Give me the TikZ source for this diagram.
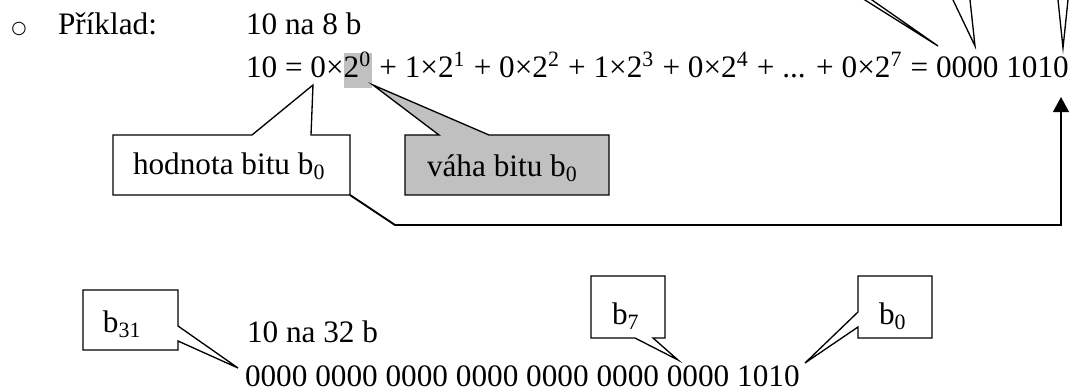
\documentclass[tikz,border=0pt]{standalone}
\usepackage{fontspec}
\setmainfont{Liberation Serif}
\newfontfamily\bulletfont{DejaVu Sans}
\usetikzlibrary{arrows.meta,fit}
\definecolor{hlgray}{RGB}{192,192,192}
\begin{document}
\begin{tikzpicture}[x=0.377pt,y=-0.377pt,
  txt/.style={inner sep=0pt,outer sep=0pt,anchor=base west,font=\fontsize{11.78}{14}\selectfont},
  callout/.style={draw=black,line width=0.5pt,line join=miter,fill=white},
  graycallout/.style={callout,fill=hlgray},
  ptr/.style={draw=black,line width=0.5pt},
  conn/.style={draw=black,line width=0.7pt},
  arr/.style={conn,-{Triangle[width=6pt,length=5.7pt]}},
  boxfit/.style={inner sep=0pt,outer sep=0pt}]
\useasboundingbox (0,0) rectangle (1087,392);

% ---- first line
\node[inner sep=0pt,font=\fontsize{6.6}{7}\bulletfont] (bul) at (19,29) {○};
\node[txt] (pri) at (58,35) {Příklad:};
\node[txt] (ex8) at (246,35) {10 na 8 b};

% ---- equation line
\node[txt] (eqA) at (246,78) {10 = 0×};
\node[txt,fill=hlgray,text height=9.4pt,text depth=3.6pt] (eqH) at (eqA.base east) {2\textsuperscript{0}};
\node[txt] (eqB) at (eqH.base east) {\ + 1×2\textsuperscript{1} + 0×2\textsuperscript{2} + 1×2\textsuperscript{3} + 0×2\textsuperscript{4} + ... + 0×2\textsuperscript{7} = 0000 1010};

% ---- pointers of callouts above the picture
\coordinate (t1) at (938,46);
\coordinate (t2) at (975,46);
\coordinate (t3) at (1063,48);
\draw[ptr] (860.2,-3) -- (t1) -- (867.7,-3);
\draw[ptr] (951.6,-3) -- (t2) -- (969.7,-3);
\draw[ptr] (1057.7,-3) -- (t3) -- (1068.3,-3);

% ---- callout: hodnota bitu b0
\coordinate (hodNW) at (113,135);
\coordinate (hodSE) at (350,195);
\coordinate (hodTip) at (313,85);
\path[callout] (113,135) -- (252,135) -- (hodTip) -- (311,135) -- (350,135) -- (350,195) -- (113,195) -- cycle;
\node[boxfit,fit=(hodNW)(hodSE)] (hodbox) {};
\node[txt] (hodtxt) at (133,175) {hodnota bitu b\textsubscript{0}};

% ---- callout: vaha bitu b0
\coordinate (vahNW) at (405,135);
\coordinate (vahSE) at (609,195);
\coordinate (vahTip) at (373,85);
\path[graycallout] (405,135) -- (439,135) -- (vahTip) -- (489,135) -- (609,135) -- (609,195) -- (405,195) -- cycle;
\node[boxfit,fit=(vahNW)(vahSE)] (vahbox) {};
\node[txt] (vahtxt) at (427,177) {váha bitu b\textsubscript{0}};

% ---- connector with arrow
\coordinate (bend) at (395,225);
\coordinate (arrtip) at (1061,97);
\draw[arr] (hodbox.south east) -- (bend) -- (arrtip |- bend) -- (arrtip);

% ---- 32-bit example
\node[txt] (ex32) at (247,343) {10 na 32 b};
\node[txt] (bits) at (245,387) {0000 0000 0000 0000 0000 0000 0000 1010};

% callout b31
\coordinate (b31Tip) at (238,368);
\path[callout] (83,290) -- (178,290) -- (178,326) -- (b31Tip) -- (178,341) -- (178,350) -- (83,350) -- cycle;
\node[txt] (b31txt) at (103,333) {b\textsubscript{31}};

% callout b7
\coordinate (b7Tip) at (678,360);
\path[callout] (591,276) -- (665,276) -- (665,338) -- (653,338) -- (b7Tip) -- (635,338) -- (591,338) -- cycle;
\node[txt] (b7txt) at (612,325) {b\textsubscript{7}};

% callout b0
\coordinate (b0Tip) at (805,363);
\path[callout] (858,276) -- (932,276) -- (932,338) -- (858,338) -- (858,327) -- (b0Tip) -- (858,312) -- cycle;
\node[txt] (b0txt) at (879,325) {b\textsubscript{0}};
\end{tikzpicture}
\end{document}
